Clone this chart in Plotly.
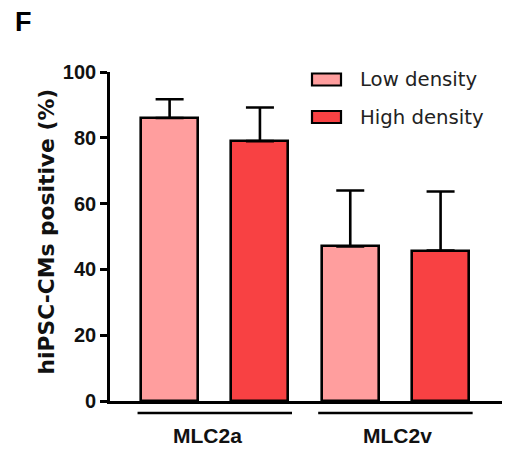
import plotly.graph_objects as go

groups = ["MLC2a", "MLC2v"]
series = ["Low density", "High density"]
low_vals = [86.0, 47.0]
low_err = [5.7, 17.0]
high_vals = [79.0, 45.7]
high_err = [10.2, 18.0]
y_ticks = [0, 20, 40, 60, 80, 100]
colors = ["#FF9E9E", "#F84143"]

W, H = 519, 459
L, R, T, B = 110, 17, 72, 58
pw, ph = W - L - R, H - T - B

def px_x(px):
    return (px - L) / pw

def px_y(py):
    return (H - B - py) / ph

fig = go.Figure()
vals_list = [low_vals, high_vals]
errs_list = [low_err, high_err]
for s, name in enumerate(series):
    xs = [2 * g + s for g in range(len(groups))]
    fig.add_trace(go.Bar(
        x=xs, y=vals_list[s], name=name, width=0.63,
        marker=dict(color=colors[s], line=dict(color="black", width=2.6)),
        error_y=dict(type="data", array=errs_list[s], arrayminus=[0] * len(groups),
                     symmetric=False, color="black", thickness=2.6, width=14),
        showlegend=False,
    ))

shapes = []
annotations = []
label_shift = [-7, 2]
for g, name in enumerate(groups):
    c = 2 * g + 0.5
    shapes.append(dict(type="line", xref="x", yref="paper", x0=c - 0.855, x1=c + 0.855,
                       y0=px_y(413), y1=px_y(413), line=dict(color="black", width=2.6)))
    annotations.append(dict(text="<b>" + name + "</b>", x=c, xref="x", y=px_y(435), yref="paper",
                            xanchor="center", yanchor="middle", showarrow=False,
                            xshift=label_shift[g],
                            font=dict(family="Liberation Sans", size=21, color="#111"),
                            ))

# custom legend
leg_rows = [79.5, 117]
for s, name in enumerate(series):
    yc = leg_rows[s]
    shapes.append(dict(type="rect", xref="paper", yref="paper",
                       x0=px_x(312), x1=px_x(341), y0=px_y(yc - 6), y1=px_y(yc + 6),
                       fillcolor=colors[s], line=dict(color="black", width=2.2)))
    annotations.append(dict(text=name, x=px_x(358), xref="paper", y=px_y(yc), yref="paper",
                            xanchor="left", yanchor="middle", showarrow=False,
                            font=dict(family="DejaVu Sans", size=19.7, color="#222")))

annotations.append(dict(text="<b>hiPSC-CMs positive (%)</b>", textangle=-90,
                        x=px_x(46), xref="paper", y=px_y(231.5), yref="paper",
                        xanchor="center", yanchor="middle", showarrow=False,
                        font=dict(family="DejaVu Sans", size=21.8, color="#111")))
annotations.append(dict(text="<b>F</b>", x=px_x(13), xref="paper", y=px_y(22), yref="paper",
                        xanchor="left", yanchor="middle", showarrow=False,
                        font=dict(family="Liberation Sans", size=27, color="black")))

fig.update_layout(
    width=W, height=H,
    margin=dict(l=L, r=R, t=T, b=B),
    plot_bgcolor="white", paper_bgcolor="white",
    shapes=shapes, annotations=annotations,
    bargap=0,
    xaxis=dict(range=[-0.66, 3.68], showline=True, linecolor="black", linewidth=2.6,
               showticklabels=False, ticks="", showgrid=False, zeroline=False),
    yaxis=dict(range=[0, 100], tickvals=y_ticks, ticktext=[f"<b>{v}</b>" for v in y_ticks],
               showline=True, linecolor="black", linewidth=2.6, ticks="outside",
               ticklen=7, tickwidth=2.6, tickcolor="black", showgrid=False, zeroline=False,
               tickfont=dict(family="Liberation Sans", size=20, color="#111")),
)

fig.write_html("out.html", config={"displayModeBar": False},
               post_script="document.body.style.margin='0';document.body.style.overflow='hidden';")
